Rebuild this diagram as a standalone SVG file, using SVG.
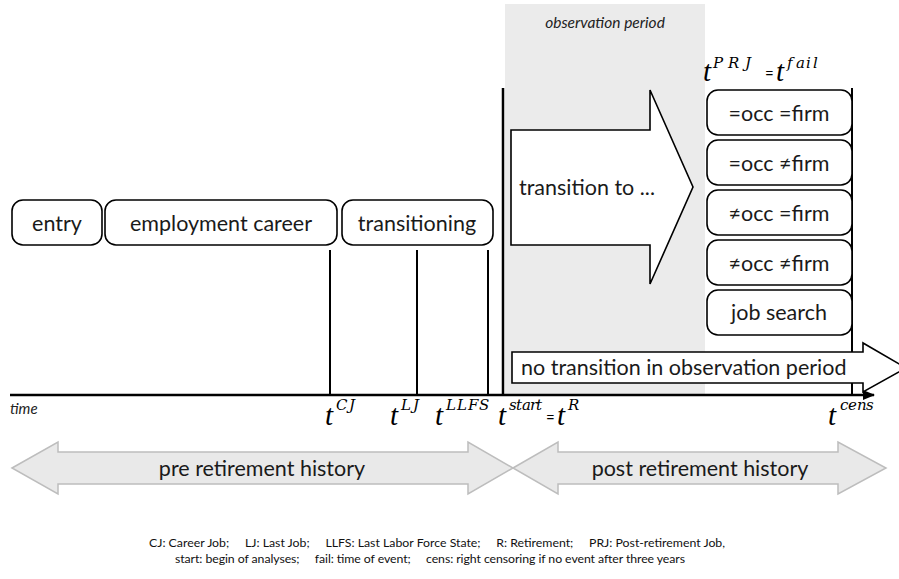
<svg xmlns="http://www.w3.org/2000/svg" width="899" height="579" viewBox="0 0 899 579">
<defs>
<style>
.box{fill:#fff;stroke:#000;stroke-width:1.6}
.lbl{font-family:Lato,"Open Sans",sans-serif;font-size:21.5px;fill:#1a1a1a}
.ln{stroke:#000;stroke-width:2;fill:none}
.m{font-family:"Liberation Serif",serif;font-style:italic;fill:#000}
.big{font-size:29px}
.sup{font-family:"DejaVu Serif",serif;font-size:15px}
.eq{font-family:Lato,sans-serif;font-style:normal;font-size:15px}
.hist{fill:#e9e9e9;stroke:#bdbdbd;stroke-width:1.5}
.foot{font-family:Lato,"Open Sans",sans-serif;font-size:12.3px;fill:#111}
</style>
<marker id="ah" viewBox="0 0 10 10" refX="9" refY="5" markerWidth="5" markerHeight="5" orient="auto" markerUnits="strokeWidth"><path d="M0,1 L10,5 L0,9 z" fill="#000"/></marker>
</defs>
<rect x="505" y="4" width="200" height="391" fill="#ebebeb"/>
<text x="605" y="28" text-anchor="middle" style="font-family:Lato,sans-serif;font-style:italic;font-size:15.5px;fill:#222">observation period</text>

<g id="connectors">
<line x1="10" y1="395" x2="874" y2="395" stroke="#000" stroke-width="2.5" marker-end="url(#ah)"/>
<line class="ln" x1="330" y1="250" x2="330" y2="395"/>
<line class="ln" x1="417" y1="250" x2="417" y2="395"/>
<line class="ln" x1="488" y1="250" x2="488" y2="395"/>
<line x1="503" y1="88" x2="503" y2="395" stroke="#000" stroke-width="2.5"/>
<line class="ln" x1="852" y1="88" x2="852" y2="395"/>
</g>

<g id="entry"><rect class="box" x="12" y="200" width="90" height="45" rx="11"/><text class="lbl" x="57" y="231" text-anchor="middle">entry</text></g>
<g id="career"><rect class="box" x="105" y="200" width="232" height="45" rx="11"/><text class="lbl" x="221" y="231" text-anchor="middle">employment career</text></g>
<g id="transitioning"><rect class="box" x="342" y="200" width="151" height="45" rx="11"/><text class="lbl" x="417" y="231" text-anchor="middle">transitioning</text></g>

<g id="transition-arrow"><path class="box" d="M511,130 H650 V90 L693,187 L650,284 V245 H511 Z"/><text class="lbl" x="519" y="195">transition to ...</text></g>

<g id="occ1"><rect class="box" x="707" y="90" width="145" height="45" rx="11"/><text class="lbl" x="779" y="121" text-anchor="middle">=occ =firm</text></g>
<g id="occ2"><rect class="box" x="707" y="140" width="145" height="45" rx="11"/><text class="lbl" x="779" y="171" text-anchor="middle">=occ ≠firm</text></g>
<g id="occ3"><rect class="box" x="707" y="190" width="145" height="45" rx="11"/><text class="lbl" x="779" y="221" text-anchor="middle">≠occ =firm</text></g>
<g id="occ4"><rect class="box" x="707" y="240" width="145" height="45" rx="11"/><text class="lbl" x="779" y="271" text-anchor="middle">≠occ ≠firm</text></g>
<g id="jobsearch"><rect class="box" x="707" y="290" width="145" height="45" rx="11"/><text class="lbl" x="779" y="320" text-anchor="middle">job search</text></g>

<g id="no-transition"><path class="box" d="M512,352 H863 V343 L906,368 L863,392 V383 H512 Z"/><text class="lbl" x="521" y="375">no transition in observation period</text></g>

<text x="10" y="414" style="font-family:Lato,sans-serif;font-style:italic;font-size:15px;fill:#222">time</text>

<g id="labels">
<text class="m"><tspan class="big" x="703" y="81">t</tspan><tspan class="sup" x="713 728 745" y="68">PRJ</tspan><tspan class="eq" x="765" y="79">=</tspan><tspan class="big" x="776" y="81">t</tspan><tspan class="sup" x="787 796 806 813" y="68">fail</tspan></text>
<text class="m"><tspan class="big" x="325" y="425">t</tspan><tspan class="sup" x="336 349" y="410">CJ</tspan></text>
<text class="m"><tspan class="big" x="390" y="425">t</tspan><tspan class="sup" x="401 413" y="410">LJ</tspan></text>
<text class="m"><tspan class="big" x="435" y="425">t</tspan><tspan class="sup" x="446 457 468 479" y="410">LLFS</tspan></text>
<text class="m"><tspan class="big" x="498" y="425">t</tspan><tspan class="sup" x="509 516 522 530 536" y="410">start</tspan><tspan class="eq" x="546" y="423">=</tspan><tspan class="big" x="557" y="425">t</tspan><tspan class="sup" x="568" y="410">R</tspan></text>
<text class="m"><tspan class="big" x="828" y="425">t</tspan><tspan class="sup" x="840 848 857 866" y="410">cens</tspan></text>
</g>

<g id="pre-retirement"><path class="hist" d="M12,468 L58,442 V452 H468 V442 L513,468 L468,494 V484 H58 V494 Z"/><text class="lbl" x="262" y="476" text-anchor="middle">pre retirement history</text></g>
<g id="post-retirement"><path class="hist" d="M513,468 L558,442 V452 H838 V442 L886,468 L838,494 V484 H558 V494 Z"/><text class="lbl" x="700" y="476" text-anchor="middle">post retirement history</text></g>

<text class="foot" x="437" y="547" text-anchor="middle" xml:space="preserve">CJ: Career Job;     LJ: Last Job;     LLFS: Last Labor Force State;     R: Retirement;     PRJ: Post-retirement Job,</text>
<text class="foot" x="430" y="563" text-anchor="middle" textLength="510" xml:space="preserve">start: begin of analyses;     fail: time of event;     cens: right censoring if no event after three years</text>
</svg>
